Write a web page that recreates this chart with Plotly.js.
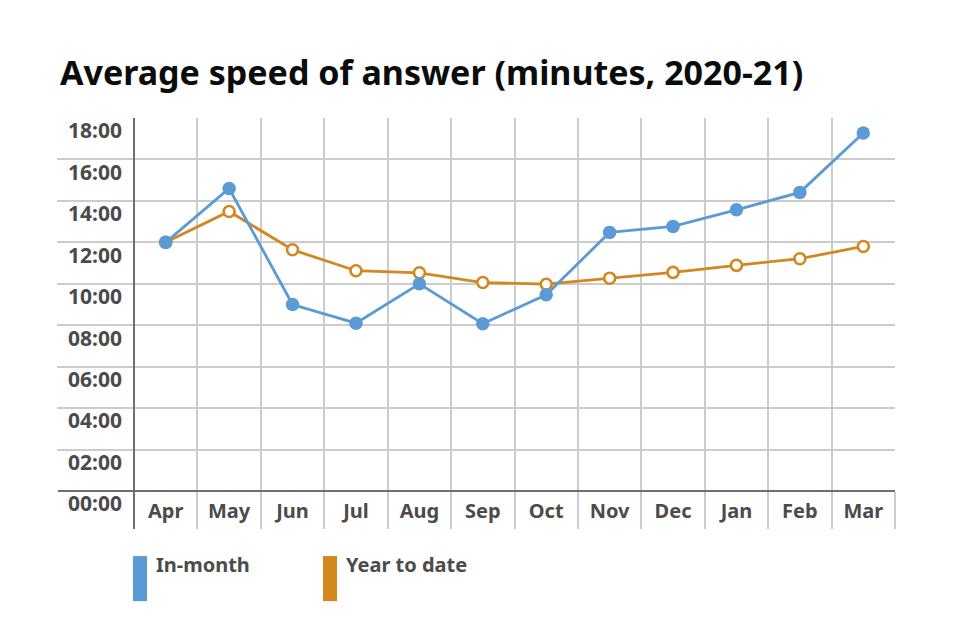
<!DOCTYPE html>
<html>
<head>
<meta charset="utf-8">
<script src="https://cdn.plot.ly/plotly-3.0.1.min.js"></script>
<style>html,body{margin:0;padding:0;background:#fff;}#chart{width:960px;height:640px;}</style>
</head>
<body>
<div id="chart"></div>
<script>
const months = ['Apr','May','Jun','Jul','Aug','Sep','Oct','Nov','Dec','Jan','Feb','Mar'];
const inMonth = [12.0, 14.6, 9.0, 8.1, 10.0, 8.07, 9.47, 12.48, 12.77, 13.57, 14.41, 17.28];
const yearToDate = [12.0, 13.49, 11.64, 10.63, 10.53, 10.06, 9.98, 10.27, 10.55, 10.89, 11.21, 11.8];
const seriesNames = ['In-month', 'Year to date'];
const seriesColors = ['#5B9BD5', '#D4861F'];
const yTickVals = [0, 2, 4, 6, 8, 10, 12, 14, 16, 18];
const yTickText = ['00:00','02:00','04:00','06:00','08:00','10:00','12:00','14:00','16:00','18:00'];
const gridVals = [2, 4, 6, 8, 10, 12, 14, 16];

const W = 960, H = 640, mL = 134, mR = 65, mT = 118.4, mB = 149;
const pw = W - mL - mR, ph = H - mT - mB;
const px = v => (v - mL) / pw;
const py = v => (H - mB - v) / ph;

const FONT = '"Noto Sans", "DejaVu Sans", sans-serif';
const TXT = '#4b4b4b';

const traces = [
  {
    x: months, y: yearToDate, name: seriesNames[1], type: 'scatter', mode: 'lines+markers',
    xaxis: 'x', yaxis: 'y',
    line: {color: seriesColors[1], width: 2.8},
    marker: {size: 11, color: '#ffffff', line: {color: seriesColors[1], width: 2.6}},
    cliponaxis: false, showlegend: false, hoverinfo: 'skip'
  },
  {
    x: months, y: inMonth, name: seriesNames[0], type: 'scatter', mode: 'lines+markers',
    xaxis: 'x', yaxis: 'y2',
    line: {color: seriesColors[0], width: 2.8},
    marker: {size: 13.5, color: seriesColors[0]},
    cliponaxis: false, showlegend: false, hoverinfo: 'skip'
  }
];

const legendItems = [
  {x: 133, w: 14, tx: 154},
  {x: 323, w: 14, tx: 344}
];
const shapes = [
  {type: 'line', xref: 'paper', yref: 'paper', x0: px(58), x1: 1, y0: 0, y1: 0,
   line: {color: '#6e6e6e', width: 2}},
  {type: 'line', xref: 'paper', yref: 'paper', x0: 0, x1: 0, y0: py(529), y1: 1,
   line: {color: '#6e6e6e', width: 2}}
];
const annotations = [];
legendItems.forEach((it, i) => {
  shapes.push({type: 'rect', xref: 'paper', yref: 'paper',
    x0: px(it.x), x1: px(it.x + it.w), y0: py(601), y1: py(556),
    fillcolor: seriesColors[i], line: {width: 0}});
  annotations.push({xref: 'paper', yref: 'paper', x: px(it.tx), y: py(549),
    xanchor: 'left', yanchor: 'top', showarrow: false, text: seriesNames[i],
    font: {family: FONT, size: 20, color: TXT, weight: 'bold'}});
});

const layout = {
  width: W, height: H,
  margin: {l: mL, r: mR, t: mT, b: mB},
  paper_bgcolor: '#fff', plot_bgcolor: '#fff',
  showlegend: false,
  title: {text: 'Average speed of answer (minutes, 2020-21)',
    xref: 'container', yref: 'container', x: 60 / W, xanchor: 'left', y: 1 - 73 / H, yanchor: 'middle',
    font: {family: FONT, size: 34, color: '#0b0c0c', weight: 'bold'}},
  xaxis: {
    type: 'category', range: [-0.5, 11.5], tickson: 'boundaries',
    showgrid: true, gridcolor: '#cccccc', gridwidth: 2,
    ticks: 'outside', ticklen: 37, tickcolor: '#cccccc', tickwidth: 2,
    ticklabelstandoff: 6,
    showline: false, zeroline: false, fixedrange: true,
    tickfont: {family: FONT, size: 20, color: TXT, weight: 'bold'}
  },
  yaxis: {
    range: [0, 18], tickmode: 'array', tickvals: yTickVals, ticktext: yTickText,
    ticks: '', showgrid: false, zeroline: false, showline: false,
    ticklabelshift: 13, ticklabelstandoff: 11, fixedrange: true,
    tickfont: {family: FONT, size: 21, color: TXT, weight: 'bold'}
  },
  yaxis2: {
    overlaying: 'y', anchor: 'x', side: 'left',
    range: [0, 18], tickmode: 'array', tickvals: gridVals, showticklabels: false,
    showgrid: true, gridcolor: '#cccccc', gridwidth: 2,
    ticks: 'outside', ticklen: 76, tickcolor: '#cccccc', tickwidth: 2,
    zeroline: false, showline: false, fixedrange: true
  },
  shapes: shapes,
  annotations: annotations
};

Plotly.newPlot('chart', traces, layout, {staticPlot: true, displayModeBar: false});
</script>
</body>
</html>
